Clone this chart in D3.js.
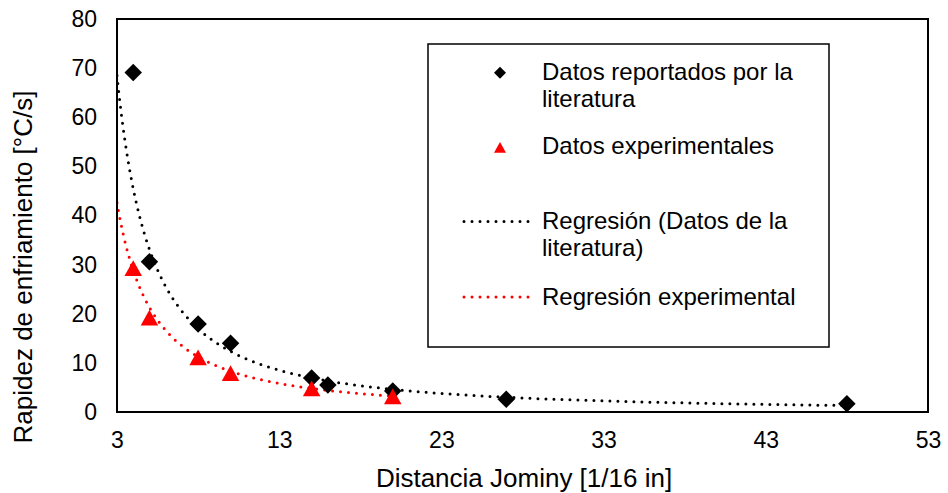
<!DOCTYPE html>
<html>
<head>
<meta charset="utf-8">
<script src="https://cdn.jsdelivr.net/npm/d3@7"></script>
<style>
  html, body { margin: 0; padding: 0; background: #fff; }
  svg { display: block; font-family: "Liberation Sans", Arial, sans-serif; }
</style>
</head>
<body>
<svg id="chart" width="948" height="493"></svg>
<script>
// Cooling rate vs. Jominy distance
const literatureX = [4, 5, 8, 10, 15, 16, 20, 27, 48];
const literatureY = [69.1, 30.6, 17.9, 14.0, 6.9, 5.5, 4.3, 2.6, 1.7];
const experimentalX = [4, 5, 8, 10, 15, 20];
const experimentalY = [29.3, 19.2, 11.1, 7.9, 4.8, 3.2];

// Power-law trendlines y = a * x^b and the x-range each one covers
const trendLiterature = [327, -1.423];
const trendLiteratureRange = [3, 48];
const trendExperimental = [189.4, -1.358];
const trendExperimentalRange = [3, 20];

const xTicks = [3, 13, 23, 33, 43, 53];
const yTicks = [0, 10, 20, 30, 40, 50, 60, 70, 80];

const xTitle = "Distancia Jominy [1/16 in]";
const yTitle = "Rapidez de enfriamiento [°C/s]";
const legendLabels = [
  ["Datos reportados por la", "literatura"],
  ["Datos experimentales"],
  ["Regresión (Datos de la", "literatura)"],
  ["Regresión experimental"]
];

const svg = d3.select("#chart");
const plot = { left: 117, right: 928, top: 19, bottom: 412 };

const x = d3.scaleLinear().domain([3, 53]).range([plot.left, plot.right]);
const y = d3.scaleLinear().domain([0, 80]).range([plot.bottom, plot.top]);

// Marker shapes: rotated square (diamond) and a triangle centred on its bounding box
const diamond = {
  draw(ctx, size) {
    const r = Math.sqrt(size) / 2;
    ctx.moveTo(0, -r); ctx.lineTo(r, 0); ctx.lineTo(0, r); ctx.lineTo(-r, 0); ctx.closePath();
  }
};
const triangle = {
  draw(ctx, size) {
    const w = Math.sqrt(size);
    const h = w * 0.9;
    ctx.moveTo(0, -h / 2); ctx.lineTo(w / 2, h / 2); ctx.lineTo(-w / 2, h / 2); ctx.closePath();
  }
};

// Tick labels
const xAxis = d3.axisBottom(x).tickValues(xTicks).tickSize(0).tickPadding(20);
const gx = svg.append("g").attr("transform", `translate(0,${plot.bottom})`).call(xAxis);
gx.select(".domain").remove();
gx.selectAll("text").attr("font-size", 23).attr("font-family", "Liberation Sans, Arial, sans-serif").attr("fill", "#000");

const yAxis = d3.axisLeft(y).tickValues(yTicks).tickSize(0).tickPadding(20);
const gy = svg.append("g").attr("transform", `translate(${plot.left},0)`).call(yAxis);
gy.select(".domain").remove();
gy.selectAll("text").attr("font-size", 23).attr("font-family", "Liberation Sans, Arial, sans-serif").attr("fill", "#000");

// Trendlines
function powerCurve(coef, range) {
  const pts = d3.range(range[0], range[1] + 1e-9, 0.05).map(v => [v, coef[0] * Math.pow(v, coef[1])]);
  return d3.line().x(d => x(d[0])).y(d => y(d[1]))(pts);
}
svg.append("clipPath").attr("id", "plotClip")
  .append("rect").attr("x", plot.left).attr("y", plot.top)
  .attr("width", plot.right - plot.left).attr("height", plot.bottom - plot.top);

const curves = svg.append("g").attr("clip-path", "url(#plotClip)");
curves.append("path").attr("d", powerCurve(trendExperimental, trendExperimentalRange))
  .attr("fill", "none").attr("stroke", "#ff0000").attr("stroke-width", 3)
  .attr("stroke-linecap", "round").attr("stroke-dasharray", "0 8");
curves.append("path").attr("d", powerCurve(trendLiterature, trendLiteratureRange))
  .attr("fill", "none").attr("stroke", "#000").attr("stroke-width", 3)
  .attr("stroke-linecap", "round").attr("stroke-dasharray", "0 8");

// Data markers
const lit = literatureX.map((v, i) => [v, literatureY[i]]);
const exp = experimentalX.map((v, i) => [v, experimentalY[i]]);

svg.append("g").selectAll("path").data(lit).join("path")
  .attr("d", d3.symbol().type(diamond).size(17.5 * 17.5))
  .attr("transform", d => `translate(${x(d[0])},${y(d[1])})`)
  .attr("fill", "#000");

svg.append("g").selectAll("path").data(exp).join("path")
  .attr("d", d3.symbol().type(triangle).size(17.5 * 17.5))
  .attr("transform", d => `translate(${x(d[0])},${y(d[1])})`)
  .attr("fill", "#ff0000");

// Plot frame
svg.append("rect").attr("x", plot.left).attr("y", plot.top)
  .attr("width", plot.right - plot.left).attr("height", plot.bottom - plot.top)
  .attr("fill", "none").attr("stroke", "#000").attr("stroke-width", 2);

// Axis titles
svg.append("text").attr("x", 524).attr("y", 487)
  .attr("text-anchor", "middle").attr("font-size", 26).attr("fill", "#000").text(xTitle);
svg.append("text").attr("transform", `translate(32,267) rotate(-90)`)
  .attr("text-anchor", "middle").attr("font-size", 26).attr("fill", "#000").text(yTitle);

// Legend
const lg = svg.append("g");
lg.append("rect").attr("x", 428).attr("y", 44).attr("width", 401).attr("height", 303)
  .attr("fill", "#fff").attr("stroke", "#000").attr("stroke-width", 1.5);

const legendRows = [
  { baseline: 80, kind: "diamond" },
  { baseline: 154, kind: "triangle" },
  { baseline: 229, kind: "lineBlack" },
  { baseline: 305, kind: "lineRed" }
];
const symCenterY = [72.7, 147.3, 221.5, 297];
legendRows.forEach((row, i) => {
  const cy = symCenterY[i];
  if (row.kind === "diamond") {
    lg.append("path").attr("d", d3.symbol().type(diamond).size(12 * 12)())
      .attr("transform", `translate(500,${cy})`).attr("fill", "#000");
  } else if (row.kind === "triangle") {
    lg.append("path").attr("d", d3.symbol().type(triangle).size(12 * 12)())
      .attr("transform", `translate(500,${cy})`).attr("fill", "#ff0000");
  } else {
    lg.append("line").attr("x1", 464).attr("x2", 536).attr("y1", cy).attr("y2", cy)
      .attr("stroke", row.kind === "lineBlack" ? "#000" : "#ff0000")
      .attr("stroke-width", 3).attr("stroke-linecap", "round").attr("stroke-dasharray", "0 8");
  }
  const t = lg.append("text").attr("x", 542).attr("y", row.baseline)
    .attr("font-size", 24).attr("fill", "#000");
  legendLabels[i].forEach((line, j) => {
    t.append("tspan").attr("x", 542).attr("dy", j === 0 ? 0 : 26.5).text(line);
  });
});
</script>
</body>
</html>
